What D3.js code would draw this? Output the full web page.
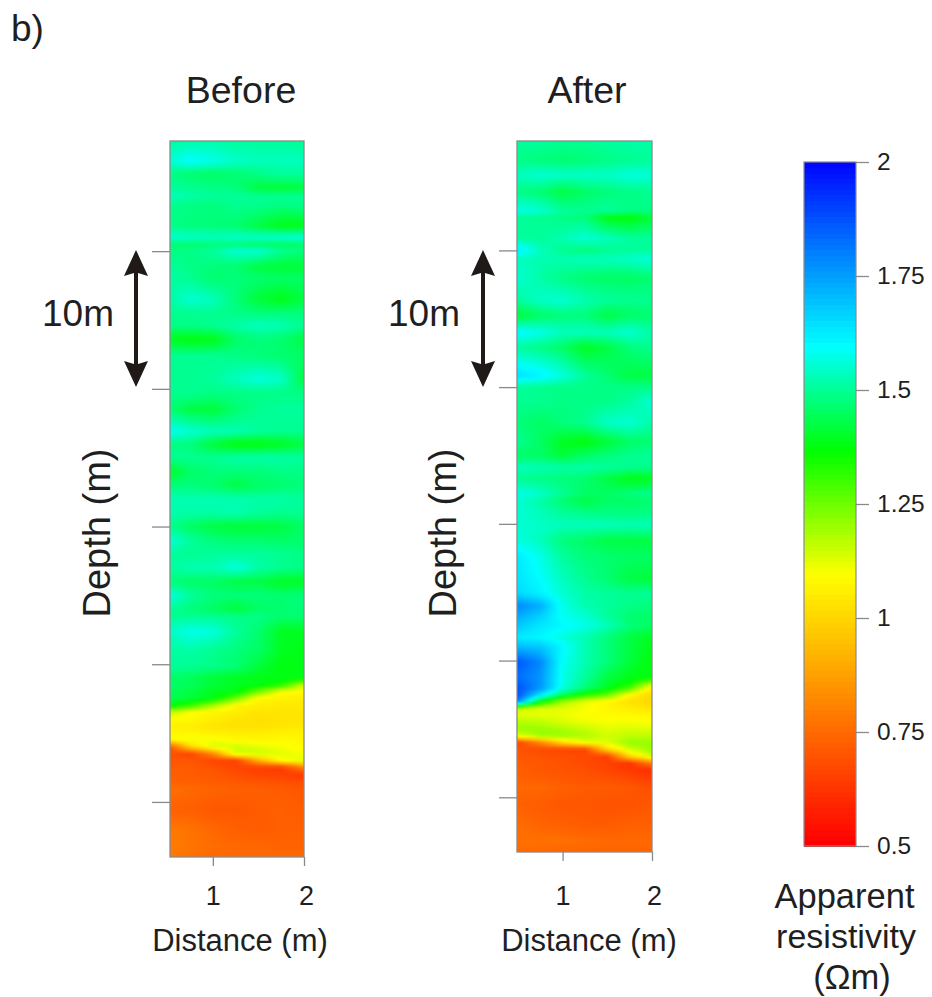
<!DOCTYPE html>
<html><head><meta charset="utf-8">
<script src="https://cdnjs.cloudflare.com/ajax/libs/d3/7.8.5/d3.min.js"></script>
<style>html,body{margin:0;background:#fff}svg{display:block}text{font-family:"Liberation Sans",Arial,sans-serif;fill:#1f1f1f}</style>
</head><body><svg id="c" width="932" height="997"></svg>
<script>
const distances=[0.5,0.75,1,1.25,1.5,1.75,2];
const depthTicks=[10,20,30,40,50];
const distanceTicks=[1,2];
const colorTicks=[0.5,0.75,1,1.25,1.5,1.75,2];
const colorStops=[0.5,1.09,1.36,1.59,2];
const colorRange=["#ff0000","#ffff00","#00ff00","#00ffff","#0000ff"];

const beforeDepths=[2,3.43,4.4,5.4,6,6.6,8.15,9,9.5,10,11.1,12,13.5,14.5,15.4,16.4,17.6,19.3,20.3,21.5,23.1,24,25,26,27,28,29,30,31,32,33,34,35,36,36.5,37.6,39,40.2,41,41.5,42,42.5,43,43.5,44,44.5,45,45.5,46,46.5,47,47.5,48,48.5,49.1,50.6,52,53.3,54];
const beforeValues=[
[1.50,1.51,1.51,1.50,1.50,1.50,1.49],
[1.55,1.59,1.57,1.54,1.53,1.53,1.53],
[1.48,1.46,1.45,1.46,1.48,1.50,1.50],
[1.50,1.49,1.48,1.47,1.42,1.41,1.42],
[1.53,1.51,1.50,1.50,1.49,1.49,1.49],
[1.49,1.48,1.47,1.49,1.49,1.48,1.49],
[1.48,1.47,1.47,1.46,1.42,1.38,1.38],
[1.55,1.54,1.53,1.54,1.54,1.55,1.56],
[1.46,1.46,1.47,1.47,1.46,1.45,1.46],
[1.48,1.48,1.50,1.55,1.55,1.49,1.47],
[1.50,1.48,1.47,1.46,1.42,1.41,1.41],
[1.51,1.49,1.46,1.47,1.46,1.45,1.45],
[1.50,1.55,1.53,1.47,1.41,1.38,1.42],
[1.49,1.49,1.49,1.48,1.47,1.47,1.47],
[1.48,1.48,1.49,1.51,1.53,1.52,1.49],
[1.39,1.37,1.38,1.45,1.47,1.46,1.42],
[1.49,1.49,1.49,1.48,1.47,1.46,1.45],
[1.49,1.49,1.50,1.53,1.56,1.54,1.42],
[1.49,1.49,1.48,1.48,1.48,1.48,1.48],
[1.47,1.42,1.41,1.46,1.49,1.50,1.50],
[1.58,1.55,1.53,1.52,1.50,1.49,1.49],
[1.48,1.47,1.41,1.37,1.37,1.39,1.42],
[1.49,1.49,1.49,1.51,1.51,1.51,1.50],
[1.39,1.45,1.47,1.47,1.47,1.48,1.48],
[1.47,1.47,1.46,1.42,1.45,1.46,1.47],
[1.52,1.52,1.52,1.52,1.51,1.51,1.50],
[1.52,1.51,1.51,1.52,1.50,1.49,1.49],
[1.49,1.45,1.42,1.41,1.41,1.42,1.45],
[1.56,1.50,1.47,1.46,1.46,1.45,1.46],
[1.50,1.49,1.50,1.50,1.50,1.49,1.48],
[1.50,1.52,1.52,1.56,1.51,1.49,1.48],
[1.47,1.45,1.45,1.42,1.42,1.39,1.39],
[1.57,1.50,1.47,1.47,1.47,1.46,1.47],
[1.50,1.47,1.45,1.41,1.45,1.46,1.47],
[1.49,1.49,1.49,1.48,1.48,1.46,1.46],
[1.53,1.57,1.56,1.50,1.46,1.39,1.39],
[1.50,1.51,1.49,1.47,1.45,1.39,1.38],
[1.50,1.49,1.48,1.46,1.41,1.37,1.38],
[1.45,1.44,1.41,1.39,1.38,1.38,1.38],
[1.46,1.44,1.41,1.39,1.38,1.33,1.15],
[1.44,1.42,1.39,1.38,1.24,1.10,1.08],
[1.43,1.41,1.38,1.24,1.07,1.06,1.05],
[1.38,1.31,1.18,1.07,1.05,1.04,1.04],
[1.17,1.09,1.07,1.05,1.03,1.03,1.03],
[1.08,1.08,1.05,1.03,1.02,1.03,1.03],
[1.06,1.05,1.03,1.02,1.02,1.03,1.04],
[1.08,1.07,1.06,1.05,1.05,1.06,1.06],
[1.08,1.10,1.10,1.08,1.07,1.08,1.07],
[0.66,0.99,1.13,1.14,1.12,1.10,1.08],
[0.69,0.65,0.81,1.14,1.15,1.12,1.10],
[0.70,0.70,0.66,0.65,0.90,1.08,1.12],
[0.71,0.71,0.69,0.66,0.64,0.63,0.80],
[0.72,0.71,0.70,0.68,0.66,0.65,0.63],
[0.72,0.72,0.71,0.70,0.69,0.68,0.67],
[0.76,0.74,0.73,0.72,0.72,0.71,0.70],
[0.72,0.72,0.70,0.70,0.71,0.72,0.71],
[0.78,0.76,0.74,0.72,0.71,0.72,0.72],
[0.79,0.77,0.75,0.74,0.74,0.73,0.73],
[0.78,0.76,0.74,0.74,0.74,0.74,0.74]];

const afterDepths=[2.1,3.4,4.5,5.7,7.1,7.6,9.1,10,10.6,12,13.65,14.75,16,17.1,19.15,20,21,22.6,24,25,25.85,26.7,27.8,28.3,29.3,30.1,31.2,32.4,34,35.1,36,36.8,37.4,38.3,39,40.1,41.2,41.5,42,42.5,43,43.5,44,44.5,45,45.5,46,46.5,47,47.5,48,48.5,49.3,50.5,52,53.2,54];
const afterValues=[
[1.50,1.50,1.49,1.49,1.50,1.51,1.51],
[1.48,1.47,1.46,1.47,1.48,1.49,1.50],
[1.53,1.55,1.54,1.54,1.54,1.56,1.55],
[1.48,1.46,1.42,1.45,1.47,1.48,1.49],
[1.57,1.55,1.50,1.49,1.50,1.48,1.48],
[1.50,1.49,1.48,1.47,1.38,1.37,1.41],
[1.50,1.50,1.52,1.55,1.53,1.50,1.50],
[1.62,1.53,1.49,1.47,1.49,1.50,1.50],
[1.53,1.52,1.52,1.53,1.53,1.54,1.56],
[1.55,1.51,1.48,1.46,1.45,1.45,1.46],
[1.50,1.54,1.55,1.52,1.50,1.49,1.49],
[1.41,1.45,1.47,1.47,1.42,1.45,1.46],
[1.60,1.57,1.53,1.53,1.53,1.55,1.51],
[1.50,1.48,1.45,1.39,1.42,1.47,1.49],
[1.64,1.61,1.56,1.50,1.46,1.42,1.42],
[1.50,1.49,1.48,1.48,1.48,1.48,1.48],
[1.49,1.49,1.48,1.48,1.48,1.50,1.55],
[1.47,1.45,1.47,1.49,1.54,1.55,1.51],
[1.49,1.45,1.39,1.37,1.41,1.45,1.46],
[1.45,1.45,1.41,1.45,1.47,1.49,1.50],
[1.53,1.52,1.51,1.51,1.50,1.49,1.48],
[1.49,1.48,1.47,1.46,1.42,1.38,1.39],
[1.57,1.54,1.49,1.45,1.45,1.47,1.49],
[1.55,1.51,1.46,1.42,1.45,1.45,1.46],
[1.55,1.53,1.50,1.49,1.48,1.48,1.48],
[1.55,1.54,1.53,1.53,1.53,1.52,1.53],
[1.56,1.53,1.47,1.45,1.42,1.42,1.42],
[1.62,1.57,1.50,1.47,1.46,1.45,1.45],
[1.63,1.59,1.53,1.49,1.46,1.42,1.41],
[1.65,1.61,1.55,1.51,1.50,1.49,1.50],
[1.78,1.72,1.57,1.52,1.50,1.48,1.47],
[1.72,1.66,1.58,1.55,1.50,1.46,1.45],
[1.68,1.63,1.60,1.57,1.53,1.47,1.45],
[1.62,1.60,1.56,1.52,1.47,1.42,1.39],
[1.70,1.68,1.60,1.52,1.47,1.42,1.38],
[1.86,1.78,1.58,1.52,1.47,1.41,1.37],
[1.82,1.76,1.57,1.50,1.42,1.38,1.37],
[1.84,1.76,1.57,1.49,1.41,1.37,1.26],
[1.87,1.76,1.56,1.47,1.39,1.29,1.05],
[1.87,1.63,1.45,1.33,1.26,1.08,1.00],
[1.78,1.38,1.19,1.11,1.07,1.02,1.00],
[1.15,1.12,1.12,1.10,1.07,1.05,1.03],
[1.12,1.12,1.11,1.09,1.08,1.08,1.07],
[1.17,1.16,1.13,1.11,1.10,1.10,1.09],
[1.20,1.20,1.18,1.15,1.12,1.13,1.12],
[1.12,1.20,1.20,1.18,1.14,1.16,1.16],
[0.66,0.81,1.00,1.10,1.12,1.20,1.20],
[0.69,0.67,0.65,0.65,1.00,1.14,1.20],
[0.70,0.69,0.68,0.67,0.64,1.00,1.15],
[0.71,0.70,0.69,0.67,0.65,0.62,0.80],
[0.72,0.70,0.69,0.68,0.66,0.63,0.60],
[0.72,0.71,0.70,0.69,0.68,0.66,0.63],
[0.74,0.74,0.72,0.71,0.71,0.70,0.68],
[0.72,0.71,0.70,0.70,0.69,0.69,0.70],
[0.75,0.73,0.72,0.71,0.71,0.72,0.72],
[0.76,0.76,0.76,0.75,0.74,0.74,0.74],
[0.74,0.74,0.73,0.73,0.73,0.73,0.73]];

const svg=d3.select("#c");
const axisColor="#8a8a8a";
const color=d3.scaleLinear().domain(colorStops).range(colorRange).interpolate(d3.interpolateRgb).clamp(true);
const defs=svg.append("defs");
defs.append("filter").attr("id","soft").attr("color-interpolation-filters","sRGB").attr("x","-2%").attr("y","-2%").attr("width","104%").attr("height","104%")
  .append("feGaussianBlur").attr("stdDeviation",0.9);

function sample(depths,values,dist,depth){
  const r=Math.min(depths.length-2,Math.max(0,d3.bisectRight(depths,depth)-1));
  const c=Math.min(distances.length-2,Math.max(0,d3.bisectRight(distances,dist)-1));
  const ty=Math.max(0,Math.min(1,(depth-depths[r])/(depths[r+1]-depths[r])));
  const tx=Math.max(0,Math.min(1,(dist-distances[c])/(distances[c+1]-distances[c])));
  const a=values[r][c]*(1-tx)+values[r][c+1]*tx, b=values[r+1][c]*(1-tx)+values[r+1][c+1]*tx;
  return a*(1-ty)+b*ty;
}

function panel(o){
  const x=d3.scaleLinear().domain(o.xDomain).range([o.left,o.right]);
  const y=d3.scaleLinear().domain([2,54]).range([o.top,o.bottom]);
  const id="clip"+o.key;
  defs.append("clipPath").attr("id",id).append("rect").attr("x",o.left).attr("y",o.top).attr("width",o.right-o.left).attr("height",o.bottom-o.top);
  const step=3, cells=[];
  for(let py=o.top-3;py<o.bottom+3;py+=step)for(let px=o.left-3;px<o.right+3;px+=step){
    const dist=x.invert(px+step/2), depth=y.invert(py+step/2);
    cells.push({dist,depth,v:sample(o.depths,o.values,dist,depth),w:x.invert(px),h:y.invert(py)});
  }
  const wrap=svg.append("g").attr("clip-path",`url(#${id})`);
  wrap.append("g").attr("filter","url(#soft)").attr("shape-rendering","crispEdges")
    .selectAll("rect").data(cells).join("rect")
    .attr("x",d=>x(d.w)).attr("y",d=>y(d.h)).attr("width",step+0.5).attr("height",step+0.5)
    .attr("fill",d=>color(d.v));
  svg.append("rect").attr("x",o.left).attr("y",o.top).attr("width",o.right-o.left).attr("height",o.bottom-o.top)
    .attr("fill","none").attr("stroke",axisColor).attr("stroke-width",1.3);
  const ax=svg.append("g").attr("transform",`translate(${o.left},0)`)
    .call(d3.axisLeft(y).tickValues(depthTicks).tickSize(18).tickFormat(""));
  ax.select(".domain").remove();
  ax.selectAll("line").attr("stroke",axisColor).attr("stroke-width",1.3);
  const bx=svg.append("g").attr("transform",`translate(0,${o.bottom})`)
    .call(d3.axisBottom(x).tickValues(distanceTicks).tickSize(9).tickFormat(d3.format("d")));
  bx.select(".domain").remove();
  bx.selectAll("line").attr("stroke",axisColor).attr("stroke-width",1.3);
  bx.selectAll("text").attr("font-size",27).attr("y",o.tickY-o.bottom).attr("dy",0).attr("dx",(d)=>d===2?2:0)
    .style("font-family",'"Liberation Sans",Arial,sans-serif').attr("fill","#1f1f1f");
  svg.append("text").attr("x",o.titleX).attr("y",103).attr("text-anchor","middle").attr("font-size",37.5).text(o.title);
  svg.append("text").attr("x",o.distX).attr("y",951).attr("text-anchor","middle").attr("font-size",31).text("Distance (m)");
  svg.append("text").attr("transform",`translate(${o.depthX},${o.depthY}) rotate(-90)`).attr("text-anchor","middle").attr("font-size",38).text("Depth (m)");
  svg.append("text").attr("x",o.scaleX).attr("y",326).attr("text-anchor","middle").attr("font-size",37).text("10m");
  const ax0=o.arrowX, t=250, b=387, hw=12, hl=26, s=2;
  const p=d3.path();
  p.moveTo(ax0,t);p.lineTo(ax0+hw,t+hl);p.lineTo(ax0+s,t+hl-3);p.lineTo(ax0+s,b-hl+3);p.lineTo(ax0+hw,b-hl);p.lineTo(ax0,b);
  p.lineTo(ax0-hw,b-hl);p.lineTo(ax0-s,b-hl+3);p.lineTo(ax0-s,t+hl-3);p.lineTo(ax0-hw,t+hl);p.closePath();
  svg.append("path").attr("d",p.toString()).attr("fill","#1f1a18");
}

panel({key:"b",title:"Before",left:170,right:304,top:141,bottom:857,xDomain:[0.53,2],depths:beforeDepths,values:beforeValues,
  tickY:905,titleX:241,distX:240,depthX:110,depthY:533,scaleX:78,arrowX:136});
panel({key:"a",title:"After",left:517,right:652,top:141,bottom:852,xDomain:[0.49,2],depths:afterDepths,values:afterValues,
  tickY:905,titleX:587,distX:589,depthX:456,depthY:533,scaleX:424,arrowX:483});

// colour bar
const cy=d3.scaleLinear().domain([0.5,2]).range([846,162]);
const barSteps=d3.range(0.5,2,0.012);
svg.append("g").attr("shape-rendering","crispEdges").selectAll("rect").data(barSteps).join("rect")
  .attr("x",804).attr("width",52).attr("y",d=>cy(d+0.012)).attr("height",d=>cy(d)-cy(d+0.012)+0.6).attr("fill",d=>color(d));
svg.append("rect").attr("x",804).attr("y",162).attr("width",52).attr("height",684).attr("fill","none").attr("stroke",axisColor).attr("stroke-width",1.2);
const cax=svg.append("g").attr("transform","translate(856,0)").call(d3.axisRight(cy).tickValues(colorTicks).tickSize(13).tickPadding(8).tickFormat(d=>String(d)));
cax.select(".domain").remove();
cax.selectAll("line").attr("stroke",axisColor).attr("stroke-width",1.3);
cax.selectAll("text").attr("font-size",24.5).style("font-family",'"Liberation Sans",Arial,sans-serif').attr("fill","#1f1f1f");

svg.append("text").attr("x",11).attr("y",41).attr("font-size",37).text("b)");
svg.append("text").attr("x",844.5).attr("y",908).attr("text-anchor","middle").attr("font-size",34.5).text("Apparent");
svg.append("text").attr("x",846).attr("y",948).attr("text-anchor","middle").attr("font-size",34).text("resistivity");
svg.append("text").attr("x",852).attr("y",989).attr("text-anchor","middle").attr("font-size",34.5).text("(Ωm)");
</script></body></html>
